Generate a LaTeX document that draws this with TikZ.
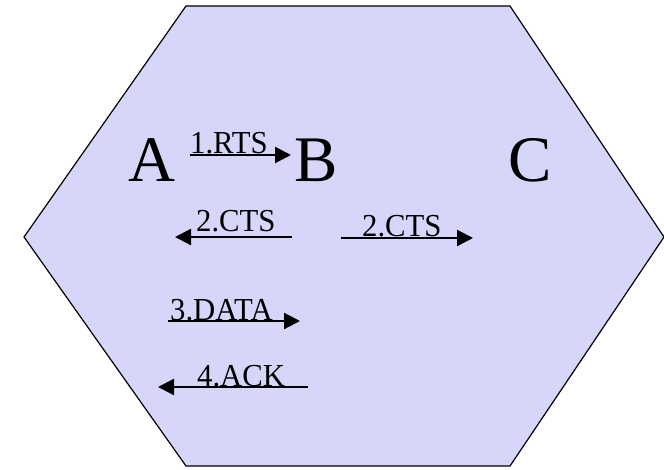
\documentclass[tikz,border=0pt]{standalone}
\usepackage{fontspec}
\setmainfont{Liberation Serif}
\usepackage{tikz}
\usetikzlibrary{arrows.meta,positioning}
\definecolor{cellfill}{RGB}{214,214,250}

\begin{document}
\begin{tikzpicture}[x=1pt, y=-1pt, station/.style={font=\fontsize{65}{65}\selectfont, inner sep=0pt, anchor=base}, msg/.style={font=\fontsize{32}{32}\selectfont, inner sep=0pt, anchor=base west, xscale=0.96}, sig/.style={line width=2.3pt, -{Triangle[length=16pt,width=16pt]}}]
    \useasboundingbox (0,0) rectangle (664,470);
    % coverage cell
    \draw[fill=cellfill, line width=1.2pt] (186,6) -- (510,6) -- (664,237) -- (510,466) -- (186,466) -- (24,237) -- cycle;

    \node[station] (A) at (152,182) {A};
    \node[station] (B) at (316,182) {B};
    \node[station] (C) at (530,182) {C};

    % message labels
    \node[msg] (rts) at (190,154) {1.RTS};
    \node[msg] (ctsl) at (196,232) {2.CTS};
    \node[msg] (ctsr) at (362,237) {2.CTS};
    \node[msg] (data) at (170,320) {3.DATA};
    \node[msg] (ack) at (197,386) {4.ACK};

    % line ends
    \coordinate (rts-s) at (190,155);  \coordinate (rts-e) at (291,155);
    \coordinate (ctsl-s) at (292,237); \coordinate (ctsl-e) at (175,237);
    \coordinate (ctsr-s) at (341,238); \coordinate (ctsr-e) at (473,238);
    \coordinate (data-s) at (168,321); \coordinate (data-e) at (300,321);
    \coordinate (ack-s) at (308,387);  \coordinate (ack-e) at (158,387);

    \foreach \m in {rts,ctsl,ctsr,data,ack}{
      \draw[sig] (\m-s) -- (\m-e);
    }
\end{tikzpicture}
\end{document}
